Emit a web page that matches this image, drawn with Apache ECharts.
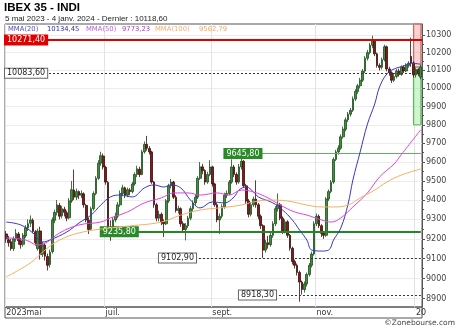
<!DOCTYPE html>
<html><head><meta charset="utf-8">
<script src="https://cdn.jsdelivr.net/npm/echarts@6/dist/echarts.min.js"></script>
<style>html,body{margin:0;padding:0;background:#fff}#c{width:460px;height:331px}</style>
</head><body><div id="c"></div>
<script>
// trading days 5 May 2023 - 4 Jan 2024 (weekdays minus exchange holidays)
const holidays = ['2023-12-25', '2023-12-26', '2024-01-01'];
const dates = [];
(function () {
  let t = Date.UTC(2023, 4, 5);
  const end = Date.UTC(2024, 0, 4);
  while (t <= end) {
    const d = new Date(t);
    const wd = d.getUTCDay();
    const s = d.toISOString().slice(0, 10);
    if (wd !== 0 && wd !== 6 && holidays.indexOf(s) < 0) dates.push(s);
    t += 86400000;
  }
})();

// [open, close, low, high]
const ohlc = [
[9225,9200,9180,9240],[9195,9180,9160,9215],[9185,9150,9140,9200],[9150,9200,9138,9212],[9200,9228,9185,9250],
[9225,9190,9170,9235],[9190,9170,9150,9205],[9172,9218,9160,9230],[9215,9257,9205,9270],[9255,9277,9240,9300],
[9280,9297,9260,9320],[9295,9238,9228,9305],[9236,9180,9165,9245],[9150,9240,9140,9252],[9240,9120,9095,9262],
[9122,9170,9108,9185],[9168,9112,9090,9180],[9110,9066,9040,9125],[9070,9132,9055,9145],[9135,9297,9125,9310],
[9295,9336,9280,9350],[9335,9375,9320,9400],[9372,9316,9300,9385],[9318,9355,9305,9370],[9352,9336,9315,9365],
[9334,9306,9290,9345],[9308,9395,9300,9410],[9395,9454,9385,9500],[9452,9415,9400,9560],[9415,9444,9400,9460],
[9444,9425,9405,9450],[9425,9434,9410,9450],[9432,9375,9360,9440],[9372,9297,9285,9380],[9295,9248,9225,9310],
[9250,9355,9240,9365],[9355,9434,9345,9445],[9434,9514,9425,9525],[9514,9594,9505,9610],[9594,9634,9580,9655],
[9632,9574,9560,9645],[9572,9494,9480,9580],[9492,9258,9245,9500],[9256,9228,9190,9295],[9228,9297,9215,9310],
[9297,9316,9285,9335],[9316,9375,9305,9390],[9375,9434,9365,9450],[9434,9464,9420,9480],[9464,9425,9410,9470],
[9425,9454,9415,9465],[9452,9444,9425,9462],[9444,9484,9435,9495],[9484,9534,9475,9545],[9534,9564,9520,9580],
[9562,9534,9520,9575],[9534,9654,9530,9665],[9654,9694,9645,9710],[9694,9674,9660,9740],[9672,9654,9640,9685],
[9654,9494,9485,9660],[9494,9375,9360,9500],[9375,9306,9290,9385],[9306,9326,9290,9345],[9326,9287,9270,9335],
[9287,9277,9209,9300],[9277,9395,9270,9405],[9395,9474,9385,9485],[9474,9494,9460,9510],[9494,9415,9405,9500],
[9415,9346,9335,9425],[9346,9355,9330,9370],[9355,9277,9262,9362],[9277,9248,9230,9290],[9248,9267,9192,9280],
[9267,9306,9255,9318],[9306,9355,9295,9368],[9355,9385,9340,9398],[9385,9415,9370,9428],[9415,9514,9405,9525],
[9514,9574,9505,9600],[9574,9554,9535,9590],[9554,9494,9480,9562],[9494,9534,9485,9548],[9534,9574,9525,9610],
[9574,9484,9470,9580],[9484,9375,9365,9490],[9375,9297,9285,9385],[9297,9316,9225,9330],[9316,9365,9305,9378],
[9365,9425,9355,9438],[9425,9434,9410,9450],[9434,9494,9425,9505],[9494,9574,9485,9614],[9574,9534,9520,9585],
[9534,9494,9480,9545],[9494,9574,9485,9590],[9574,9604,9560,9625],[9604,9474,9465,9610],[9474,9395,9380,9485],
[9395,9326,9310,9405],[9326,9375,9315,9390],[9375,9405,9365,9418],[9405,9375,9360,9503],[9375,9316,9300,9385],
[9316,9267,9250,9325],[9267,9143,9103,9275],[9143,9180,9130,9195],[9180,9170,9150,9215],[9170,9218,9160,9230],
[9218,9277,9205,9290],[9277,9355,9265,9368],[9355,9375,9340,9434],[9375,9306,9295,9385],[9306,9238,9225,9315],
[9238,9287,9228,9300],[9287,9218,9205,9295],[9218,9152,9140,9225],[9152,9085,9070,9160],[9085,9066,9050,9095],
[9066,9030,9015,9075],[9030,8982,8885,9040],[8982,8945,8920,8990],[8945,8973,8930,8985],[8973,9020,8960,9030],
[9020,9066,9010,9078],[9066,9123,9055,9135],[9123,9277,9115,9290],[9277,9316,9265,9330],[9316,9267,9255,9325],
[9267,9228,9210,9275],[9228,9218,9200,9240],[9218,9405,9210,9415],[9405,9444,9395,9455],[9444,9494,9435,9505],
[9494,9614,9485,9625],[9614,9654,9605,9665],[9654,9674,9640,9690],[9674,9735,9665,9748],[9735,9776,9725,9790],
[9776,9827,9765,9840],[9827,9858,9815,9870],[9858,9879,9845,9892],[9879,9941,9870,9955],[9941,9983,9930,9995],
[9983,10014,9970,10025],[10014,10045,10000,10058],[10045,10096,10035,10108],[10096,10168,10085,10180],[10168,10200,10155,10215],
[10200,10242,10190,10255],[10242,10265,10225,10296],[10265,10193,10180,10270],[10193,10128,10115,10200],[10128,10117,10100,10140],
[10117,10160,10105,10172],[10160,10233,10150,10245],[10233,10108,10095,10240],[10108,10087,10070,10120],[10087,10045,10030,10095],
[10045,10066,10035,10080],[10066,10097,10055,10108],[10097,10077,10065,10110],[10077,10118,10070,10128],[10118,10097,10085,10128],
[10097,10128,10090,10140],[10128,10140,10115,10152],[10178,10142,10120,10285],[10142,10075,10060,10150],[10075,10105,10060,10115],
[10105,10080,10068,10112],[10062,10118.6,10050,10130]
];

// moving averages: [trading-day index, value]
const ma20 = [[0,9286],[6,9271],[11,9230],[15,9184],[18,9194],[25,9235],[30,9281],[35,9322],[39,9374],[43,9416],
  [47,9426],[52,9416],[57,9463],[61,9479],[65,9468],[68,9479],[72,9463],[76,9400],[80,9359],[85,9390],[90,9385],
  [94,9416],[96,9452],[99,9468],[102,9442],[104,9416],[110,9385],[114,9348],[118,9297],[121,9245],[124,9194],
  [126,9143],[130,9138],[133,9143],[135,9194],[138,9255],[141,9379],[143,9505],[146,9654],[149,9804],[152,9914],
  [154,10008],[157,10080],[160,10108],[164,10125],[167,10140],[171,10134.45]];
const ma50 = [[0,9205],[8,9194],[13,9169],[17,9184],[22,9230],[30,9271],[39,9286],[43,9307],[50,9338],[57,9385],
  [64,9411],[69,9437],[75,9437],[80,9426],[87,9437],[92,9426],[97,9452],[102,9442],[108,9411],[113,9374],[119,9338],
  [124,9322],[130,9297],[134,9286],[138,9307],[143,9364],[149,9437],[154,9521],[160,9590],[163,9640],[171,9773.23]];
const ma100 = [[0,9008],[10,9078],[16,9143],[22,9194],[30,9230],[39,9250],[51,9266],[64,9286],[72,9322],[80,9348],
  [88,9359],[97,9374],[102,9390],[108,9400],[116,9395],[124,9374],[130,9364],[135,9364],[141,9374],[146,9411],
  [152,9452],[157,9494],[163,9531],[171,9562.79]];

const xTickDates = ['2023-05-05', '2023-07-03', '2023-09-01', '2023-11-01', '2024-01-02'];
const xTickLabels = ['2023mai', 'juil.', 'sept.', 'nov.', '20'];
const yTicks = [8900, 9000, 9100, 9200, 9300, 9400, 9500, 9600, 9700, 9800, 9900, 10000, 10100, 10200, 10300];
const yMinorTicks = [8950, 9050, 9150, 9250, 9350, 9450, 9550, 9650, 9750, 9850, 9950, 10050, 10150, 10250];

const last = 10118.6;
const resistance = 10271.4, pivot = 10083.6;
const level1 = 9645.8, level2 = 9235.8, level3 = 9102.9, level4 = 8918.3;
const level1Start = 90, level2Start = 39, level3Start = 63, level4Start = 96;
const targetLow = 9800;

const F = 'DejaVu Sans';
const fr = v => v.toFixed(2).replace('.', ',');
const tickSet = new Set(xTickDates.map(d => dates.indexOf(d)));
const lastIdx = dates.length - 1;

function lbl(bg, fg, border) {
  return { show: true, position: 'insideStart', distance: 0, fontSize: 8, fontFamily: F,
    color: fg, backgroundColor: bg, borderColor: border, borderWidth: 1, padding: [1, 2, 0, 2] };
}
const legStyle = (c) => ({ fontSize: 6.8, fontWeight: 'normal', fontFamily: F, color: c });

const chart = echarts.init(document.getElementById('c'), null, { renderer: 'canvas' });
chart.setOption({
  animation: false,
  backgroundColor: '#fff',
  title: [
    { text: 'IBEX 35 - INDI', left: 4, top: 2, padding: 0,
      textStyle: { fontSize: 11.5, fontWeight: 'bold', fontFamily: 'Liberation Sans', color: '#000' } },
    { text: '5 mai 2023 - 4 janv. 2024 - Dernier : ' + fr(last), left: 5, top: 15, padding: 0,
      textStyle: { fontSize: 8, fontWeight: 'normal', fontFamily: 'Liberation Sans', color: '#222' } },
    { text: 'MMA(20)', left: 8, top: 26, padding: 0, textStyle: legStyle('#5050c8') },
    { text: fr(ma20[ma20.length - 1][1]), left: 47, top: 26, padding: 0, textStyle: legStyle('#3030b0') },
    { text: 'MMA(50)', left: 86, top: 26, padding: 0, textStyle: legStyle('#c060d8') },
    { text: fr(ma50[ma50.length - 1][1]), left: 122, top: 26, padding: 0, textStyle: legStyle('#b040c8') },
    { text: 'MMA(100)', left: 155, top: 26, padding: 0, textStyle: legStyle('#f0b070') },
    { text: fr(ma100[ma100.length - 1][1]), left: 199, top: 26, padding: 0, textStyle: legStyle('#eda860') },
    { text: '©Zonebourse.com', right: 5, top: 319, padding: 0, textStyle: { fontSize: 7.5, fontWeight: 'normal', fontFamily: F, color: '#444' } }
  ],
  grid: [
    { left: 5, right: 38, top: 24, bottom: 24, show: true, borderColor: '#555', borderWidth: 1, backgroundColor: 'transparent' },
    { left: 5, right: 38, top: 307, height: 11, show: true, borderColor: '#555', borderWidth: 1 }
  ],
  xAxis: [
    { type: 'category', data: dates, boundaryGap: true, gridIndex: 0,
      axisLine: { show: false }, axisTick: { show: false },
      axisLabel: { interval: (i) => tickSet.has(i), formatter: (v) => xTickLabels[xTickDates.indexOf(v)] || '',
        align: 'left', margin: 2, fontSize: 8, fontFamily: F, color: '#333' },
      splitLine: { show: true, interval: (i) => tickSet.has(i), lineStyle: { color: '#e2e2e2', width: 1 } } },
    { type: 'category', gridIndex: 1, show: false, data: ['a'] }
  ],
  yAxis: [
    { type: 'log', logBase: 10, min: 8859, max: 10363, position: 'right', gridIndex: 0,
      axisLine: { show: true, lineStyle: { color: '#555' } },
      axisTick: { show: true, length: 3, customValues: yTicks, lineStyle: { color: '#555' } },
      axisLabel: { customValues: yTicks, formatter: (v) => String(Math.round(v)), margin: 4, fontSize: 8, fontFamily: F, color: '#444' },
      splitLine: { show: true, lineStyle: { color: '#ececec', width: 1 } } },
    { type: 'log', logBase: 10, min: 8859, max: 10363, position: 'right', gridIndex: 0,
      axisLine: { show: false }, axisLabel: { show: false }, splitLine: { show: false },
      axisTick: { show: true, length: 2, customValues: yMinorTicks, lineStyle: { color: '#555' } } },
    { type: 'value', gridIndex: 1, show: false }
  ],
  series: [
    { type: 'candlestick', name: 'IBEX', data: ohlc, xAxisIndex: 0, yAxisIndex: 0, barWidth: 2.2,
      itemStyle: { color: '#3f8f3f', color0: '#7d1d1d', borderColor: '#1d4d1d', borderColor0: '#3d0a0a', borderWidth: 0.8 },
      markArea: { silent: true,
        data: [
          [{ coord: [lastIdx - 3, 10363], itemStyle: { color: 'rgba(255,120,120,0.35)', borderColor: '#e06060', borderWidth: 1 } },
           { coord: [lastIdx, last] }],
          [{ coord: [lastIdx - 3, last], itemStyle: { color: 'rgba(120,230,120,0.35)', borderColor: '#50c050', borderWidth: 1 } },
           { coord: [lastIdx, targetLow] }]
        ] },
      markLine: { silent: true, symbol: ['none', 'none'],
        data: [
          { yAxis: resistance, lineStyle: { color: '#e00000', width: 2, type: 'solid' },
            label: Object.assign(lbl('#e00000', '#fff', '#e00000'), { formatter: fr(resistance) }) },
          { yAxis: pivot, lineStyle: { color: '#333', width: 1, type: [2, 2] },
            label: Object.assign(lbl('#fff', '#222', '#666'), { formatter: fr(pivot) }) },
          [{ coord: [level1Start, level1], lineStyle: { color: '#60b060', width: 1, type: 'solid' },
             label: Object.assign(lbl('#2a8a2a', '#fff', '#2a8a2a'), { formatter: fr(level1) }) },
           { coord: [lastIdx, level1] }],
          [{ coord: [level2Start, level2], lineStyle: { color: '#1f8a1f', width: 2, type: 'solid' },
             label: Object.assign(lbl('#2a8a2a', '#fff', '#2a8a2a'), { formatter: fr(level2) }) },
           { coord: [lastIdx, level2] }],
          [{ coord: [level3Start, level3], lineStyle: { color: '#333', width: 1, type: [2, 2] },
             label: Object.assign(lbl('#fff', '#222', '#666'), { formatter: fr(level3) }) },
           { coord: [lastIdx, level3] }],
          [{ coord: [level4Start, level4], lineStyle: { color: '#333', width: 1, type: [2, 2] },
             label: Object.assign(lbl('#fff', '#222', '#666'), { formatter: fr(level4) }) },
           { coord: [lastIdx, level4] }]
        ] } },
    { type: 'line', name: 'MMA(20)', data: ma20, smooth: 0.4, symbol: 'none', z: 5,
      lineStyle: { color: '#3838c0', width: 1 } },
    { type: 'line', name: 'MMA(50)', data: ma50, smooth: 0.4, symbol: 'none', z: 5,
      lineStyle: { color: '#dd44dd', width: 1 } },
    { type: 'line', name: 'MMA(100)', data: ma100, smooth: 0.4, symbol: 'none', z: 5,
      lineStyle: { color: '#f5b060', width: 1 } }
  ]
});
</script>
</body></html>
